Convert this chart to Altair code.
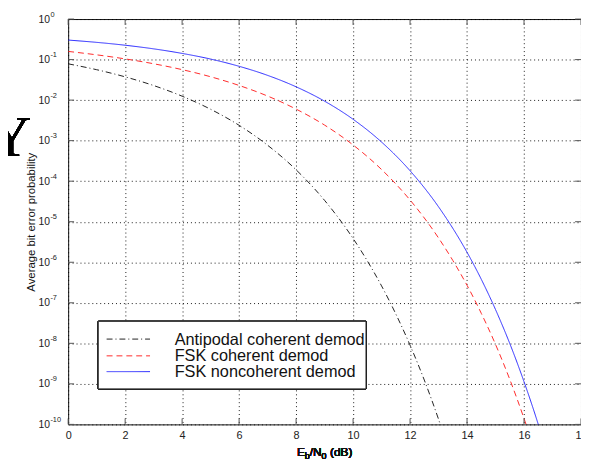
import altair as alt
import pandas as pd

# ---- data ----
series_names = ["Antipodal coherent demod", "FSK coherent demod", "FSK noncoherent demod"]

anti_x = [0, 1, 2, 3, 4, 5, 6, 7, 8, 9, 10, 10.5, 11, 11.5, 12, 12.5, 13, 13.5]
anti_y = [7.86e-2, 5.63e-2, 3.75e-2, 2.29e-2, 1.25e-2, 5.95e-3, 2.39e-3, 7.7e-4, 1.91e-4,
          3.36e-5, 3.87e-6, 1.08e-6, 2.61e-7, 5.3e-8, 9.0e-9, 1.24e-9, 1.34e-10, 1.13e-11]

fskc_x = [0, 1, 2, 3, 4, 5, 6, 7, 8, 9, 10, 11, 12, 13, 13.5, 14, 14.5, 15, 15.5, 16, 16.5]
fskc_y = [0.159, 0.131, 0.104, 0.0789, 0.0565, 0.0377, 0.0230, 0.0126, 6.0e-3, 2.42e-3,
          7.83e-4, 1.94e-4, 3.43e-5, 3.97e-6, 1.11e-6, 2.70e-7, 5.5e-8, 9.4e-9, 1.29e-9,
          1.40e-10, 1.2e-11]

fskn_x = [0, 1, 2, 3, 4, 5, 6, 7, 8, 9, 10, 11, 12, 13, 14, 14.5, 15, 15.5, 16, 16.5, 17]
fskn_y = [0.303, 0.266, 0.226, 0.184, 0.142, 0.103, 0.0683, 0.0408, 0.0213, 9.42e-3,
          3.37e-3, 9.23e-4, 1.81e-4, 2.33e-5, 1.76e-6, 3.8e-7, 6.8e-8, 9.9e-9, 1.13e-9,
          1.0e-10, 6.5e-12]

x_ticks = [0, 2, 4, 6, 8, 10, 12, 14, 16, 18]
y_ticks = [1e0, 1e-1, 1e-2, 1e-3, 1e-4, 1e-5, 1e-6, 1e-7, 1e-8, 1e-9, 1e-10]
y_exps = ["0", "-1", "-2", "-3", "-4", "-5", "-6", "-7", "-8", "-9", "-10"]

# ---- tables ----
rows = []
for name, xs, ys in zip(series_names, [anti_x, fskc_x, fskn_x], [anti_y, fskc_y, fskn_y]):
    for i, (a, b) in enumerate(zip(xs, ys)):
        rows.append({"series": name, "x": a, "y": b, "order": i})
df = pd.DataFrame(rows)
xt = pd.DataFrame({"x": x_ticks})
yt = pd.DataFrame({"y": y_ticks, "e": y_exps})

W, H = 520, 411
xscale = alt.Scale(domain=[0, 18], nice=False)
yscale = alt.Scale(type="log", domain=[1e-10, 1], nice=False)
cscale = alt.Scale(domain=series_names, range=["#222222", "#ff2a2a", "#2a2aff"])
dscale = alt.Scale(domain=series_names, range=[[6, 3, 1, 3], [6, 4], [1, 0]])

lines = alt.Chart(df).mark_line(clip=True, strokeWidth=1, interpolate="monotone").encode(
    x=alt.X("x:Q", scale=xscale,
            axis=alt.Axis(values=x_ticks, title=None, grid=True, gridDash=[1, 3],
                          gridColor="#000", gridOpacity=0.9, domain=False, ticks=False,
                          labelFontSize=11, labelColor="#222", labelPadding=5,
                          labelFlush=False)),
    y=alt.Y("y:Q", scale=yscale,
            axis=alt.Axis(values=y_ticks, title="Average bit error probability",
                          titleFontSize=11.5, titleFontWeight="normal", titleColor="#111",
                          titleX=-34, titleY=H / 2, titleAngle=-90, titleBaseline="alphabetic",
                          titleAlign="center",
                          grid=True, gridDash=[1, 3], gridColor="#000", gridOpacity=0.9,
                          domain=False, ticks=False, labelExpr="'10'", labelFontSize=10.5,
                          labelColor="#222", labelPadding=19)),
    color=alt.Color("series:N", scale=cscale, legend=None),
    strokeDash=alt.StrokeDash("series:N", scale=dscale, legend=None),
    order="order:Q",
)

tick_style = dict(color="#555", strokeWidth=1)
top_ticks = alt.Chart(xt).mark_rule(**tick_style).encode(x=alt.X("x:Q", scale=xscale), y=alt.value(0), y2=alt.value(6))
bot_ticks = alt.Chart(xt).mark_rule(**tick_style).encode(x=alt.X("x:Q", scale=xscale), y=alt.value(H), y2=alt.value(H - 6))
left_ticks = alt.Chart(yt).mark_rule(**tick_style).encode(y=alt.Y("y:Q", scale=yscale), x=alt.value(0), x2=alt.value(6))
right_ticks = alt.Chart(yt).mark_rule(**tick_style).encode(y=alt.Y("y:Q", scale=yscale), x=alt.value(W), x2=alt.value(W - 6))

exps = alt.Chart(yt).mark_text(align="left", baseline="middle", fontSize=7.5, color="#222", dy=-4.5).encode(
    y=alt.Y("y:Q", scale=yscale), x=alt.value(-18), text="e:N")

# ---- legend box (drawn as marks) ----
legend_box = alt.Chart(xt).mark_rect(fill="#ffffff", stroke="#222", strokeWidth=1).encode(
    x=alt.value(30.5), x2=alt.value(302), y=alt.value(306.5), y2=alt.value(375))
legend_layers = [legend_box]
sym_y = [324.5, 341.5, 357.5]
lab_y = [330, 346.5, 363]
for name, sy, ly in zip(series_names, sym_y, lab_y):
    d = pd.DataFrame({"series": [name]})
    legend_layers.append(alt.Chart(d).mark_rule(strokeWidth=1).encode(
        x=alt.value(39), x2=alt.value(83), y=alt.value(sy),
        color=alt.Color("series:N", scale=cscale, legend=None),
        strokeDash=alt.StrokeDash("series:N", scale=dscale, legend=None)))
    legend_layers.append(alt.Chart(d).mark_text(align="left", baseline="alphabetic", fontSize=16.5,
                                                color="#111").encode(
        x=alt.value(108), y=alt.value(ly), text="series:N"))

big_y = alt.Chart(xt).mark_text(text="Y", fontSize=58, align="center", baseline="alphabetic",
                                color="#000", font="Liberation Sans Narrow").encode(
    x=alt.value(-58.5), y=alt.value(139))

tstyle = dict(align="left", baseline="alphabetic", color="#111")
t1 = alt.Chart(xt).mark_text(text="E", fontSize=12, **tstyle).encode(x=alt.value(232), y=alt.value(443))
t2 = alt.Chart(xt).mark_text(text="b", fontSize=9, **tstyle).encode(x=alt.value(240), y=alt.value(446))
t3 = alt.Chart(xt).mark_text(text="/N", fontSize=12, **tstyle).encode(x=alt.value(245), y=alt.value(443))
t4 = alt.Chart(xt).mark_text(text="0", fontSize=9, **tstyle).encode(x=alt.value(257), y=alt.value(446))
t5 = alt.Chart(xt).mark_text(text="(dB)", fontSize=12, **tstyle).encode(x=alt.value(265.5), y=alt.value(443))

chart = alt.layer(
    lines, top_ticks, bot_ticks, left_ticks, right_ticks, exps, *legend_layers,
    big_y, t1, t2, t3, t4, t5
).properties(
    width=W, height=H,
    autosize=alt.AutoSizeParams(type="none"),
    padding={"left": 61, "top": 8, "right": 0, "bottom": 40},
).configure(font="Liberation Sans").configure_view(stroke="#111", strokeWidth=1)

chart.save("out.html", embed_options={"renderer": "svg", "actions": False})
